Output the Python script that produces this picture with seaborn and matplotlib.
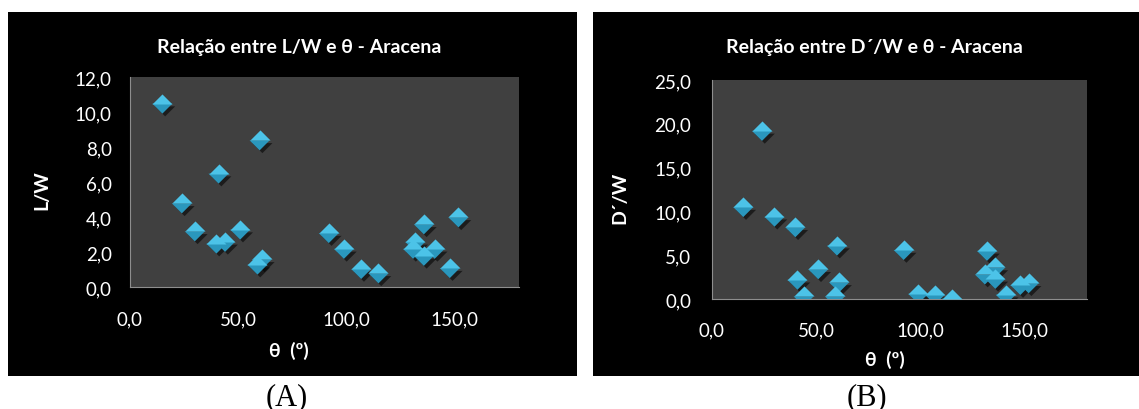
""" Scatter of L/W and D'/W versus theta - Aracena (two panels). """

import matplotlib
matplotlib.use("Agg")
from matplotlib import pyplot as plt
from matplotlib import patheffects as pe
from matplotlib.patches import Rectangle
from matplotlib.ticker import FuncFormatter
import seaborn as sns


########
# Data #
########
theta = [15, 24, 30, 40, 41, 44, 51, 59, 60, 61, 92,
         99, 107, 115, 131, 132, 136, 136, 141, 148, 152]
l_w = [10.5, 4.8, 3.2, 2.5, 6.5, 2.6, 3.3, 1.3, 8.4, 1.6, 3.1,
       2.2, 1.05, 0.8, 2.2, 2.6, 3.6, 1.8, 2.2, 1.1, 4.0]
d_w = [10.5, 19.2, 9.4, 8.2, 2.2, 0.3, 3.4, 0.3, 6.1, 1.9, 5.6,
       0.6, 0.5, 0.05, 2.8, 5.5, 3.6, 2.3, 0.5, 1.6, 1.8]

x_ticks = [0, 50, 100, 150]
lw_ticks = [0, 2, 4, 6, 8, 10, 12]
dw_ticks = [0, 5, 10, 15, 20, 25]

titles = ["Relação entre L/W e θ - Aracena", "Relação entre D´/W e θ - Aracena"]
ylabels = ["L/W", "D´/W"]
xlabel = "θ  (º)"
panel_tags = ["(A)", "(B)"]


#########
# Style #
#########
sns.set_style("dark", rc={
    "axes.facecolor": "#404040",
    "axes.edgecolor": "#8e8e8e",
    "axes.linewidth": 2,
    "xtick.bottom": False,
    "ytick.left": False,
})
plt.rcParams["font.family"] = ["Lato", "DejaVu Sans"]

comma_fmt = FuncFormatter(lambda v, p: f"{v:.1f}".replace(".", ","))

upper_half = [(-1, 0), (0, 1), (1, 0)]
lower_half = [(-1, 0), (0, -1), (1, 0)]
shadow = [pe.SimplePatchShadow(offset=(2, -2), shadow_rgbFace="black", alpha=0.55),
          pe.Normal()]


##########
# Figure #
##########
fig = plt.figure(figsize=(11.39, 4.10), dpi=100)
fig.patch.set_facecolor("white")

# black chart frames
fig.add_artist(Rectangle((0.007, 0.0805), 0.4996, 0.8878, transform=fig.transFigure,
                         facecolor="black", edgecolor="none", zorder=-1))
fig.add_artist(Rectangle((0.5206, 0.0805), 0.4794, 0.8878, transform=fig.transFigure,
                         facecolor="black", edgecolor="none", zorder=-1))

ax0 = fig.add_axes([0.1141, 0.2968, 0.3415, 0.5122])
ax1 = fig.add_axes([0.6251, 0.2683, 0.3292, 0.5340])

# ax, values, yticks, ymax, ylabel xy, xlabel xy, title x, tag x, x pad, y pad
panels = [
    (ax0, l_w, lw_ticks, 12, (-0.205, 0.468), (0.409, -0.255), 0.2625, 0.2515, 16.5, 13),
    (ax1, d_w, dw_ticks, 25, (-0.224, 0.466), (0.461, -0.232), 0.768, 0.761, 16, 15),
]

for i, (ax, yvals, yt, ymax, ylab_xy, xlab_xy, title_x, tag_x, xpad, ypad) in enumerate(panels):
    sns.scatterplot(x=theta, y=yvals, ax=ax, marker=lower_half, s=210,
                    color="#2a97bd", linewidth=0, path_effects=shadow, zorder=3)
    sns.scatterplot(x=theta, y=yvals, ax=ax, marker=upper_half, s=210,
                    color="#4cc3e8", linewidth=0, zorder=4)

    ax.set_xlim(0, 180)
    ax.set_ylim(0, ymax)
    ax.set_xticks(x_ticks)
    ax.set_yticks(yt)
    ax.xaxis.set_major_formatter(comma_fmt)
    ax.yaxis.set_major_formatter(comma_fmt)
    ax.tick_params(axis="x", colors="white", labelsize=13.5, pad=xpad, length=0)
    ax.tick_params(axis="y", colors="white", labelsize=13.5, pad=ypad, length=0)
    ax.grid(False)

    for side in ["top", "right"]:
        ax.spines[side].set_visible(False)

    ax.set_ylabel(ylabels[i], color="white", fontweight="bold", fontsize=14)
    ax.yaxis.set_label_coords(*ylab_xy)
    ax.set_xlabel(xlabel, color="white", fontweight="bold", fontsize=14)
    ax.xaxis.set_label_coords(*xlab_xy)

    fig.text(title_x, 0.883, titles[i], color="white", fontweight="bold",
             fontsize=14, ha="center", va="center")
    fig.text(tag_x, 0.012, panel_tags[i], color="black", fontsize=22,
             family="Liberation Serif", ha="center", va="baseline")

fig.savefig("out.png", dpi=100, facecolor="white")
